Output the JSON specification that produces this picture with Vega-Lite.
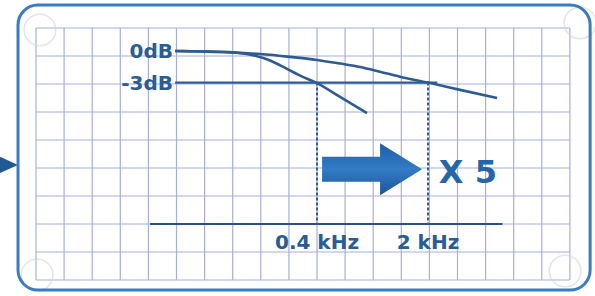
{
  "$schema": "https://vega.github.io/schema/vega-lite/v6.json",
  "width": 595,
  "height": 296,
  "autosize": {"type": "none"},
  "padding": 0,
  "background": "white",
  "config": {"view": {"stroke": null}},
  "datasets": {
    "vgrid": [{"u":0},{"u":1},{"u":2},{"u":3},{"u":4},{"u":5},{"u":6},{"u":7},{"u":8},{"u":9},{"u":10},{"u":11},{"u":12},{"u":13},{"u":14},{"u":15},{"u":16},{"u":17},{"u":18},{"u":19}],
    "hgrid": [{"v":0},{"v":1},{"v":2},{"v":3},{"v":4},{"v":5},{"v":6},{"v":7},{"v":8},{"v":9}],
    "curves": [
      {"series":"2 kHz","i":0,"u":4.95,"v":0.82},
      {"series":"2 kHz","i":1,"u":5.84,"v":0.84},
      {"series":"2 kHz","i":2,"u":6.9,"v":0.87},
      {"series":"2 kHz","i":3,"u":7.97,"v":0.93},
      {"series":"2 kHz","i":4,"u":9.04,"v":1.03},
      {"series":"2 kHz","i":5,"u":10.0,"v":1.14},
      {"series":"2 kHz","i":6,"u":10.82,"v":1.27},
      {"series":"2 kHz","i":7,"u":11.53,"v":1.39},
      {"series":"2 kHz","i":8,"u":12.24,"v":1.56},
      {"series":"2 kHz","i":9,"u":12.95,"v":1.74},
      {"series":"2 kHz","i":10,"u":13.95,"v":1.95},
      {"series":"2 kHz","i":11,"u":15.09,"v":2.21},
      {"series":"2 kHz","i":12,"u":16.41,"v":2.5},
      {"series":"0.4 kHz","i":0,"u":4.95,"v":0.82},
      {"series":"0.4 kHz","i":1,"u":6.6,"v":0.85},
      {"series":"0.4 kHz","i":2,"u":7.5,"v":0.93},
      {"series":"0.4 kHz","i":3,"u":8.33,"v":1.16},
      {"series":"0.4 kHz","i":4,"u":8.93,"v":1.46},
      {"series":"0.4 kHz","i":5,"u":9.4,"v":1.7},
      {"series":"0.4 kHz","i":6,"u":10.0,"v":1.97},
      {"series":"0.4 kHz","i":7,"u":10.82,"v":2.46},
      {"series":"0.4 kHz","i":8,"u":11.78,"v":3.04}
    ],
    "cutoffs": [
      {"label":"0.4 kHz","u":10.0,"v":1.95,"v2":7},
      {"label":"2 kHz","u":13.95,"v":1.95,"v2":7}
    ],
    "levels": [
      {"label":"0dB","u":4.875,"v":0.82},
      {"label":"-3dB","u":4.875,"v":1.95}
    ]
  },
  "layer": [
    {
      "data": {"name": "vgrid"},
      "mark": {"type": "rule", "color": "#a5b0db", "strokeWidth": 1.2},
      "encoding": {
        "x": {"field": "u", "type": "quantitative", "axis": null, "scale": {"domain": [-1.281, 19.893], "nice": false, "zero": false}},
        "y": {"datum": 0, "type": "quantitative", "axis": null, "scale": {"domain": [-1, 9.571], "nice": false, "zero": false, "reverse": true}},
        "y2": {"datum": 9}
      }
    },
    {
      "data": {"name": "hgrid"},
      "mark": {"type": "rule", "color": "#a5b0db", "strokeWidth": 1.2},
      "encoding": {
        "y": {"field": "v", "type": "quantitative", "axis": null, "scale": {"domain": [-1, 9.571], "nice": false, "zero": false, "reverse": true}},
        "x": {"datum": 0, "type": "quantitative", "axis": null, "scale": {"domain": [-1.281, 19.893], "nice": false, "zero": false}},
        "x2": {"datum": 19}
      }
    },
    {
      "data": {"values": [{"u":4.06,"u2":16.6,"v":7}]},
      "mark": {"type": "rule", "color": "#2c4f8c", "strokeWidth": 2},
      "encoding": {
        "x": {"field": "u", "type": "quantitative", "axis": null, "scale": {"domain": [-1.281, 19.893], "nice": false, "zero": false}},
        "x2": {"field": "u2"},
        "y": {"field": "v", "type": "quantitative", "axis": null, "scale": {"domain": [-1, 9.571], "nice": false, "zero": false, "reverse": true}}
      }
    },
    {
      "data": {"name": "cutoffs"},
      "mark": {"type": "rule", "color": "#2f5f9e", "strokeWidth": 2, "strokeDash": [3, 2]},
      "encoding": {
        "x": {"field": "u", "type": "quantitative", "axis": null, "scale": {"domain": [-1.281, 19.893], "nice": false, "zero": false}},
        "y": {"field": "v", "type": "quantitative", "axis": null, "scale": {"domain": [-1, 9.571], "nice": false, "zero": false, "reverse": true}},
        "y2": {"field": "v2"}
      }
    },
    {
      "data": {"values": [{"u":4.95,"u2":14.28,"v":1.95}]},
      "mark": {"type": "rule", "color": "#2f5d95", "strokeWidth": 2.2},
      "encoding": {
        "x": {"field": "u", "type": "quantitative", "axis": null, "scale": {"domain": [-1.281, 19.893], "nice": false, "zero": false}},
        "x2": {"field": "u2"},
        "y": {"field": "v", "type": "quantitative", "axis": null, "scale": {"domain": [-1, 9.571], "nice": false, "zero": false, "reverse": true}}
      }
    },
    {
      "data": {"name": "curves"},
      "mark": {"type": "line", "color": "#2e5c92", "strokeWidth": 2.6, "interpolate": "monotone"},
      "encoding": {
        "x": {"field": "u", "type": "quantitative", "axis": null, "scale": {"domain": [-1.281, 19.893], "nice": false, "zero": false}},
        "y": {"field": "v", "type": "quantitative", "axis": null, "scale": {"domain": [-1, 9.571], "nice": false, "zero": false, "reverse": true}},
        "detail": {"field": "series"},
        "order": {"field": "i", "type": "quantitative"}
      }
    },
    {
      "data": {"name": "levels"},
      "mark": {"type": "text", "align": "right", "baseline": "middle", "font": "DejaVu Sans", "fontWeight": "bold", "fontSize": 20, "color": "#2b5c96", "dy": 1},
      "encoding": {
        "x": {"field": "u", "type": "quantitative", "axis": null, "scale": {"domain": [-1.281, 19.893], "nice": false, "zero": false}},
        "y": {"field": "v", "type": "quantitative", "axis": null, "scale": {"domain": [-1, 9.571], "nice": false, "zero": false, "reverse": true}},
        "text": {"field": "label"}
      }
    },
    {
      "data": {"name": "cutoffs"},
      "mark": {"type": "text", "align": "center", "baseline": "middle", "font": "DejaVu Sans", "fontWeight": "bold", "fontSize": 20, "color": "#2b5c96", "dy": 19},
      "encoding": {
        "x": {"field": "u", "type": "quantitative", "axis": null, "scale": {"domain": [-1.281, 19.893], "nice": false, "zero": false}},
        "y": {"field": "v2", "type": "quantitative", "axis": null, "scale": {"domain": [-1, 9.571], "nice": false, "zero": false, "reverse": true}},
        "text": {"field": "label"}
      }
    },
    {
      "data": {"values": [{"label":"X 5","u":15.37,"v":5.14}]},
      "mark": {"type": "text", "align": "center", "baseline": "middle", "font": "DejaVu Sans", "fontWeight": "bold", "fontSize": 32, "color": "#2565a8", "dy": 1},
      "encoding": {
        "x": {"field": "u", "type": "quantitative", "axis": null, "scale": {"domain": [-1.281, 19.893], "nice": false, "zero": false}},
        "y": {"field": "v", "type": "quantitative", "axis": null, "scale": {"domain": [-1, 9.571], "nice": false, "zero": false, "reverse": true}},
        "text": {"field": "label"}
      }
    },
    {
      "data": {"values": [{"u":11.96,"v":5.04}]},
      "mark": {"type": "point", "filled": true, "opacity": 1, "size": 10000, "shape": "M -1,-0.25 L 0.16,-0.25 L 0.16,-0.52 L 1,0 L 0.16,0.52 L 0.16,0.25 L -1,0.25 Z",
        "fill": {"gradient": "linear", "x1": 0, "y1": 0, "x2": 0, "y2": 1, "stops": [{"offset": 0, "color": "#1d5ea3"}, {"offset": 0.5, "color": "#347cc6"}, {"offset": 1, "color": "#1b5597"}]},
        "stroke": null},
      "encoding": {
        "x": {"field": "u", "type": "quantitative", "axis": null, "scale": {"domain": [-1.281, 19.893], "nice": false, "zero": false}},
        "y": {"field": "v", "type": "quantitative", "axis": null, "scale": {"domain": [-1, 9.571], "nice": false, "zero": false, "reverse": true}}
      }
    },
    {
      "data": {"values": [{"u":-0.996,"v":4.89}]},
      "mark": {"type": "point", "filled": true, "opacity": 1, "size": 400, "shape": "M -1,-0.9 L 1,0 L -1,0.9 Z", "color": "#1f5a94"},
      "encoding": {
        "x": {"field": "u", "type": "quantitative", "axis": null, "scale": {"domain": [-1.281, 19.893], "nice": false, "zero": false}},
        "y": {"field": "v", "type": "quantitative", "axis": null, "scale": {"domain": [-1, 9.571], "nice": false, "zero": false, "reverse": true}}
      }
    },
    {
      "data": {"values": [{"u":0.14,"v":0.07},{"u":0.04,"v":8.82},{"u":18.83,"v":8.68},{"u":19.36,"v":-0.18}]},
      "mark": {"type": "point", "filled": false, "size": 1000, "color": "#d0d4de", "strokeWidth": 1.5, "opacity": 0.6},
      "encoding": {
        "x": {"field": "u", "type": "quantitative", "axis": null, "scale": {"domain": [-1.281, 19.893], "nice": false, "zero": false}},
        "y": {"field": "v", "type": "quantitative", "axis": null, "scale": {"domain": [-1, 9.571], "nice": false, "zero": false, "reverse": true}}
      }
    },
    {
      "data": {"values": [{"u":-0.64,"u2":19.72,"v":-0.82,"v2":9.36}]},
      "mark": {"type": "rect", "fill": null, "fillOpacity": 0, "stroke": "#3a7cc2", "strokeWidth": 3, "cornerRadius": 20},
      "encoding": {
        "x": {"field": "u", "type": "quantitative", "axis": null, "scale": {"domain": [-1.281, 19.893], "nice": false, "zero": false}},
        "x2": {"field": "u2"},
        "y": {"field": "v", "type": "quantitative", "axis": null, "scale": {"domain": [-1, 9.571], "nice": false, "zero": false, "reverse": true}},
        "y2": {"field": "v2"}
      }
    }
  ]
}
